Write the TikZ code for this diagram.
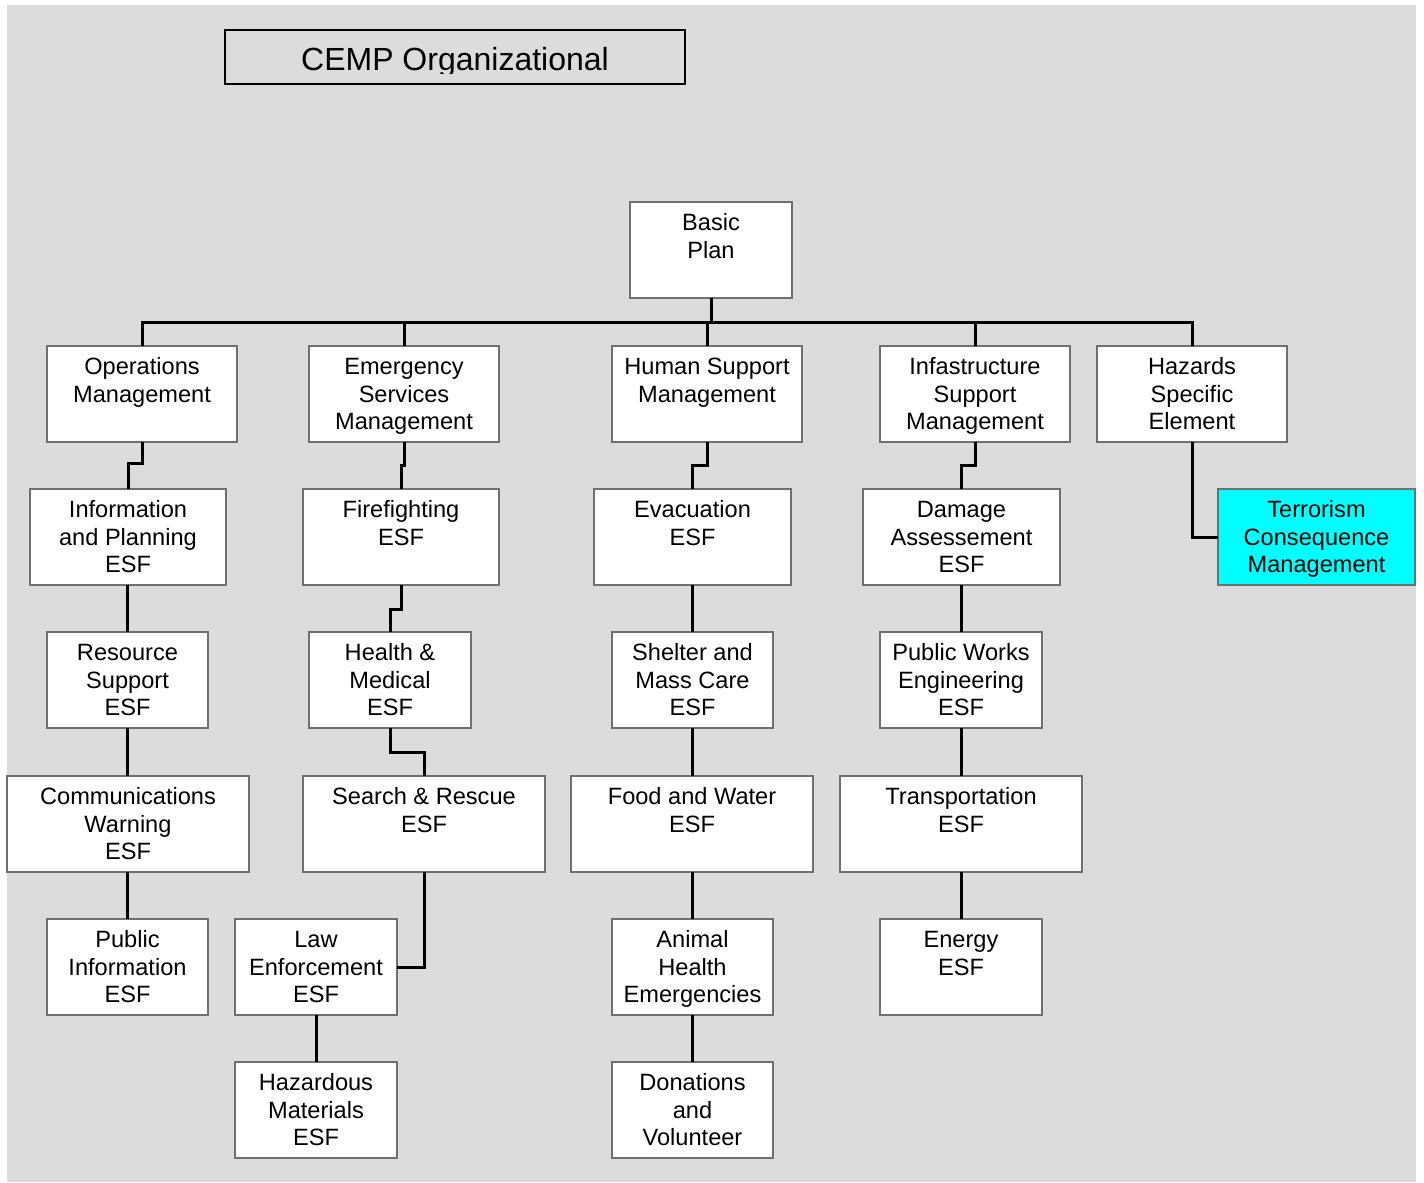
\documentclass[tikz,border=0pt]{standalone}
\usepackage{fontspec}
\setmainfont{Liberation Sans}
\definecolor{bggray}{RGB}{220,220,220}
\definecolor{boxgray}{RGB}{112,112,112}
\definecolor{termcyan}{RGB}{0,255,255}
\newcommand\orgbox[7][white]{%
  \node[box, fill=#1, minimum width={(#5-#3)*0.5pt}, minimum height={(#6-#4)*0.5pt}] (#2) at ({(#3+#5)/2},{(#4+#6)/2}) {};
  \node[txt] (#2-t) at ({(#3+#5)/2},{#4+28.5}) {\parbox[t]{150pt}{\centering #7}};}
\begin{document}
\begin{tikzpicture}[x=0.5pt,y=-0.5pt,
  box/.style={draw=boxgray, line width=1.4pt, rectangle, inner sep=0pt, outer sep=0pt},
  conn/.style={line width=1.5pt, draw=black},
  txt/.style={anchor=base, inner sep=0pt, font=\fontsize{11.8}{13.75}\selectfont}]
\useasboundingbox (0,0) rectangle (1424,1183);
\fill[white] (0,0) rectangle (1424,1183);
\fill[bggray] (7,5) rectangle (1416,1182);

% title
\node[draw=black, line width=1pt, fill=bggray, inner sep=0pt, outer sep=0pt, minimum width=230pt, minimum height=27pt] (titlebox) at (455,57) {};
\begin{scope}
  \clip (225,30) rectangle (685,73);
  \node[anchor=base, inner sep=0pt, font=\fontsize{16}{19}\selectfont] (title) at (455,70) {CEMP Organizational};
\end{scope}

% boxes
\orgbox{basic}{630}{202}{792}{298}{Basic\\Plan}
\orgbox{ops}{47}{346}{237}{442}{Operations\\Management}
\orgbox{es}{309}{346}{499}{442}{Emergency\\Services\\Management}
\orgbox{hs}{612}{346}{802}{442}{Human Support\\Management}
\orgbox{inf}{880}{346}{1070}{442}{Infastructure\\Support\\Management}
\orgbox{haz}{1097}{346}{1287}{442}{Hazards\\Specific\\Element}

\orgbox{info}{30}{489}{226}{585}{Information\\and Planning\\ESF}
\orgbox{fire}{303}{489}{499}{585}{Firefighting\\ESF}
\orgbox{evac}{594}{489}{791}{585}{Evacuation\\ESF}
\orgbox{dmg}{863}{489}{1060}{585}{Damage\\Assessement\\ESF}
\orgbox[termcyan]{terr}{1218}{489}{1415}{585}{Terrorism\\Consequence\\Management}

\orgbox{res}{47}{632}{208}{728}{Resource\\Support\\ESF}
\orgbox{hm}{309}{632}{471}{728}{Health \&\\Medical\\ESF}
\orgbox{shel}{612}{632}{773}{728}{Shelter and\\Mass Care\\ESF}
\orgbox{pw}{880}{632}{1042}{728}{Public Works\\Engineering\\ESF}

\orgbox{comm}{7}{776}{249}{872}{Communications\\Warning\\ESF}
\orgbox{sr}{303}{776}{545}{872}{Search \& Rescue\\ESF}
\orgbox{food}{571}{776}{813}{872}{Food and Water\\ESF}
\orgbox{trans}{840}{776}{1082}{872}{Transportation\\ESF}

\orgbox{pubinfo}{47}{919}{208}{1015}{Public\\Information\\ESF}
\orgbox{law}{235}{919}{397}{1015}{Law\\Enforcement\\ESF}
\orgbox{animal}{612}{919}{773}{1015}{Animal\\Health\\Emergencies}
\orgbox{energy}{880}{919}{1042}{1015}{Energy\\ESF}

\orgbox{hazmat}{235}{1062}{397}{1158}{Hazardous\\Materials\\ESF}
\orgbox{don}{612}{1062}{773}{1158}{Donations\\and\\Volunteer}

% connectors
\coordinate (bus) at (711,322);
\draw[conn] (basic.south) -- (bus);
\draw[conn] (ops.north) -- (ops.north |- bus) -- (haz.north |- bus) -- (haz.north);
\draw[conn] (es.north) -- (es.north |- bus);
\draw[conn] (hs.north) -- (hs.north |- bus);
\draw[conn] (inf.north) -- (inf.north |- bus);

\draw[conn] (ops.south) -- ++(0,21) -| (info.north);
\draw[conn] (es.south) -- ++(0,23) -| (fire.north);
\draw[conn] (hs.south) -- ++(0,23) -| (evac.north);
\draw[conn] (inf.south) -- ++(0,23) -| (dmg.north);
\draw[conn] (haz.south) |- (terr.west);

\draw[conn] (res.north |- info.south) -- (res.north);
\draw[conn] (res.south) -- (res.south |- comm.north);
\draw[conn] (pubinfo.north |- comm.south) -- (pubinfo.north);

\draw[conn] (fire.south) -- ++(0,24) -| (hm.north);
\draw[conn] (hm.south) -- ++(0,24) -| (sr.north);
\draw[conn] (sr.south) |- (law.east);
\draw[conn] (law.south) -- (hazmat.north);

\draw[conn] (shel.north |- evac.south) -- (shel.north);
\draw[conn] (shel.south) -- (shel.south |- food.north);
\draw[conn] (animal.north |- food.south) -- (animal.north);
\draw[conn] (animal.south) -- (don.north);

\draw[conn] (pw.north |- dmg.south) -- (pw.north);
\draw[conn] (pw.south) -- (pw.south |- trans.north);
\draw[conn] (energy.north |- trans.south) -- (energy.north);
\end{tikzpicture}
\end{document}
